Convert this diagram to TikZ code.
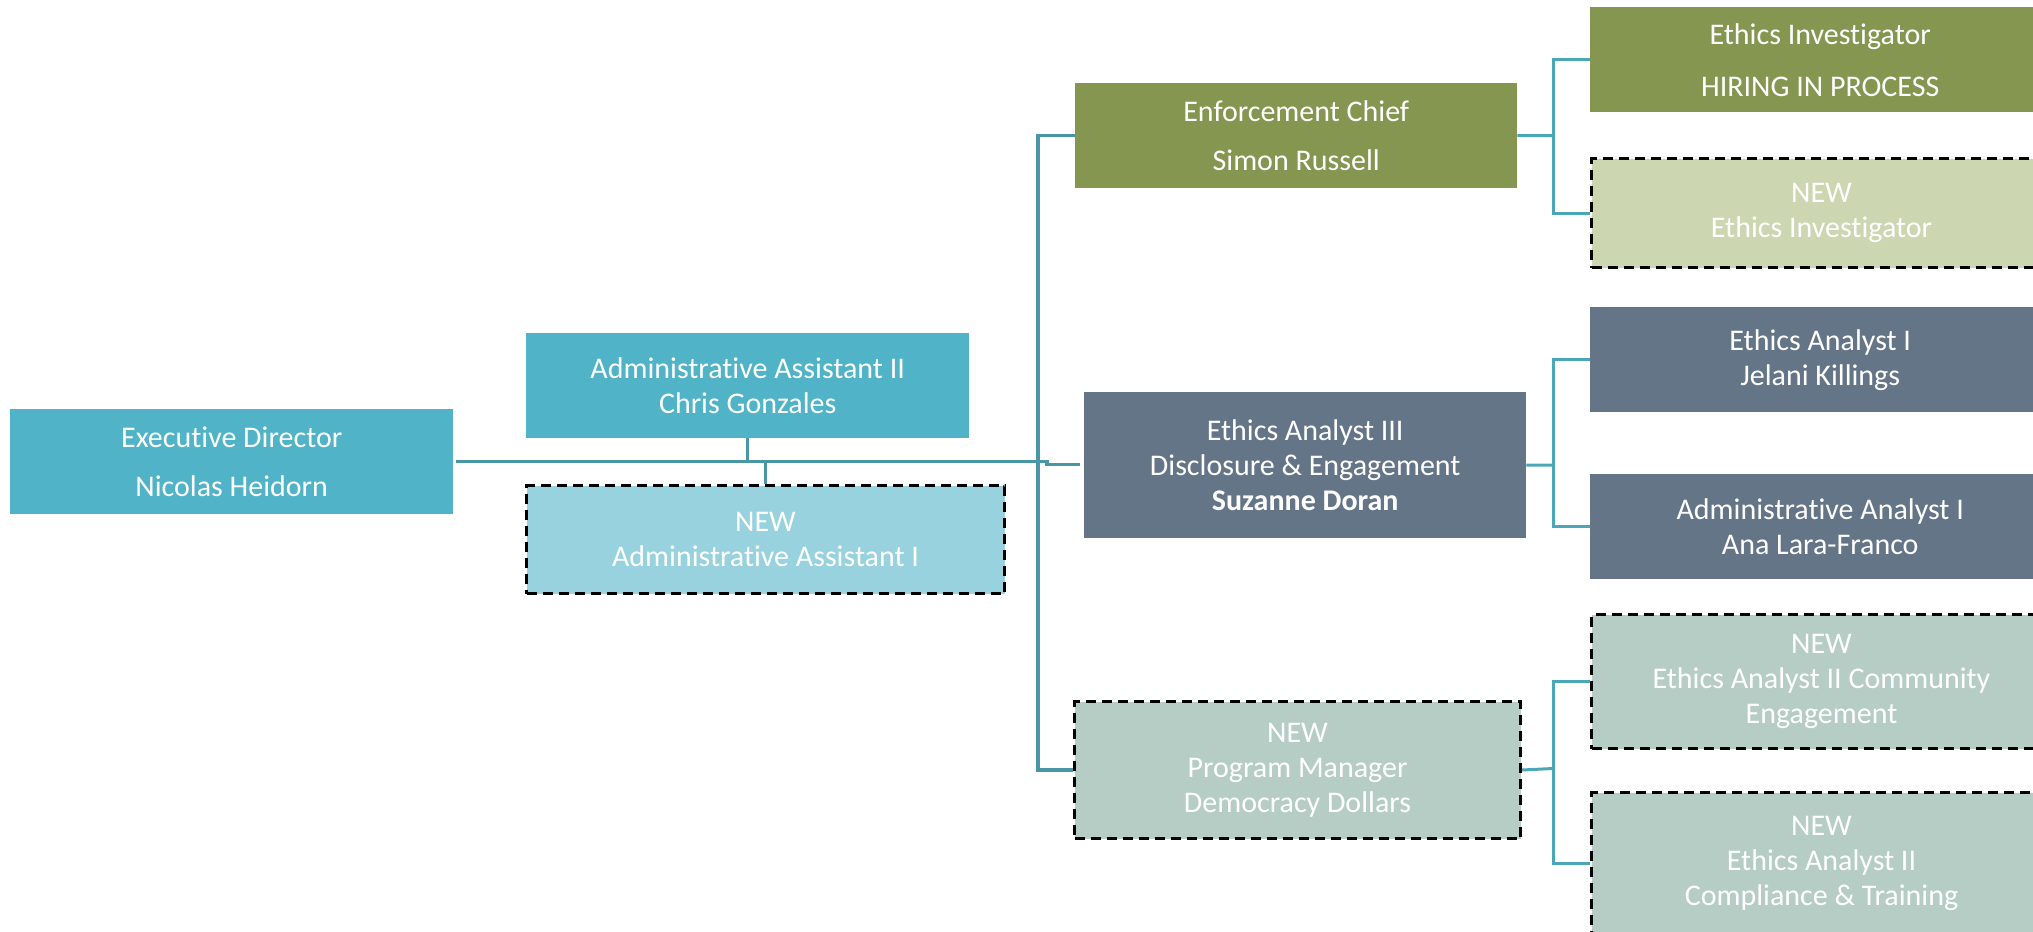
\documentclass[tikz,border=0pt]{standalone}
\usepackage{fontspec}
\setmainfont{Carlito}[Ligatures={NoCommon}]
\definecolor{cteal}{HTML}{50B3C8}
\definecolor{clteal}{HTML}{97D2DE}
\definecolor{colive}{HTML}{84964F}
\definecolor{clolive}{HTML}{CCD6B1}
\definecolor{cslate}{HTML}{647587}
\definecolor{csage}{HTML}{B5CDC4}
\definecolor{cline}{HTML}{4BA6B8}
\definecolor{cmain}{HTML}{4896A8}
\tikzset{
  box/.style={rectangle, anchor=north west, inner sep=0pt, text=white, align=center,
    font=\fontsize{30}{35}\selectfont},
  newbox/.style={box, draw=black, line width=3pt, dash pattern=on 10pt off 6pt},
  conn/.style={draw=cline, line width=3pt},
  mainconn/.style={draw=cmain, line width=3.5pt},
}
\begin{document}
\begin{tikzpicture}[x=1pt, y=-1pt]
\useasboundingbox (0,0) rectangle (2033,931);
% left
\node[box, fill=cteal, minimum width=443pt, minimum height=105pt] (exec) at (10,409)
  {Executive Director\\[14pt]Nicolas Heidorn};
\node[box, fill=cteal, minimum width=443pt, minimum height=105pt] (aa2) at (526,333)
  {Administrative Assistant II\\Chris Gonzales};
\node[newbox, fill=clteal, minimum width=478pt, minimum height=108pt] (aa1) at (525,484)
  {NEW\\Administrative Assistant I};
% middle
\node[box, fill=colive, minimum width=442pt, minimum height=105pt] (enf) at (1075,83)
  {Enforcement Chief\\[14pt]Simon Russell};
\node[box, fill=cslate, minimum width=442pt, minimum height=146pt] (ea3) at (1084,392)
  {Ethics Analyst III\\Disclosure \& Engagement\\\textbf{Suzanne Doran}};
\node[newbox, fill=csage, minimum width=446pt, minimum height=137pt] (pm) at (1073,700)
  {NEW\\Program Manager\\Democracy Dollars};
% right
\node[box, fill=colive, minimum width=460pt, minimum height=105pt] (inv) at (1590,7)
  {Ethics Investigator\\[17pt]HIRING IN PROCESS};
\node[newbox, fill=clolive, minimum width=460pt, minimum height=109pt] (ninv) at (1590,157)
  {NEW\\Ethics Investigator};
\node[box, fill=cslate, minimum width=460pt, minimum height=105pt] (ea1) at (1590,307)
  {Ethics Analyst I\\Jelani Killings};
\node[box, fill=cslate, minimum width=460pt, minimum height=105pt] (adm1) at (1590,474)
  {Administrative Analyst I\\Ana Lara-Franco};
\node[newbox, fill=csage, minimum width=460pt, minimum height=134pt] (ea2c) at (1590,613)
  {NEW\\Ethics Analyst II Community\\Engagement};
\node[newbox, fill=csage, minimum width=460pt, minimum height=142pt] (ea2t) at (1590,791)
  {NEW\\Ethics Analyst II\\Compliance \& Training};
% connectors
\coordinate (ms) at (456,461.5);
\coordinate (mj) at (1047,461.5);
\coordinate (me) at (1080,464.5);
\draw[mainconn] (ms) -- (mj) |- (me);
\draw[conn, draw=cmain] (aa2.south) -- (aa2.south |- mj);
\draw[conn, draw=cmain] (aa1.north |- mj) -- (aa1.north);
\draw[mainconn] (enf.west) -- ++(-37,0) |- (pm.west);
\coordinate (r1) at (1553,135.5);
\coordinate (r2) at (1553,465);
\coordinate (r3) at (1553,768.5);
\draw[conn] (enf.east) -- (r1);
\draw[conn] (inv.west) -| (r1) |- (ninv.west);
\draw[conn] (ea3.east) -- (r2);
\draw[conn] (ea1.west) -| (r2) |- (adm1.west);
\draw[conn] (pm.east) -- (r3);
\draw[conn] (ea2c.west) -| (r3) |- (ea2t.west);
\end{tikzpicture}
\end{document}
